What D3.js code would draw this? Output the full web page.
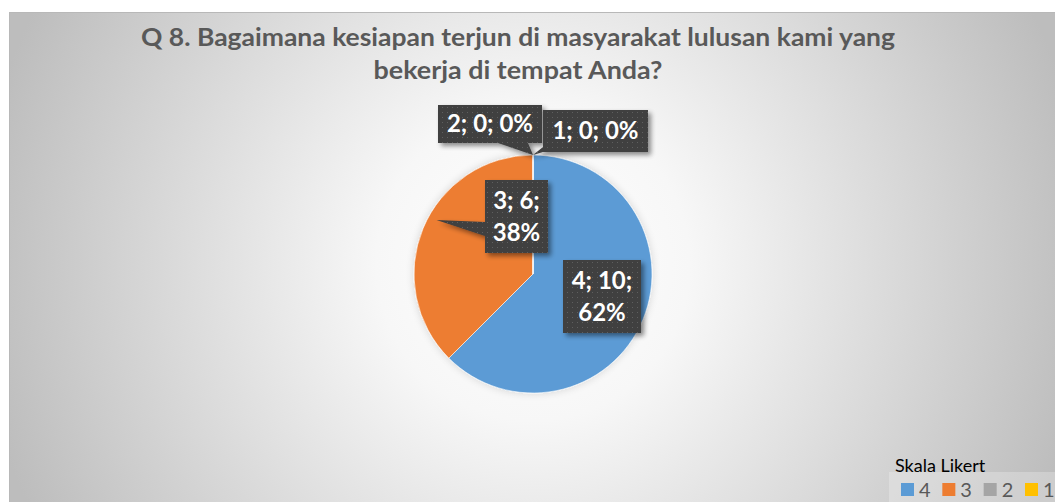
<!DOCTYPE html>
<html><head><meta charset="utf-8">
<script src="https://cdn.jsdelivr.net/npm/d3@7"></script>
<style>html,body{margin:0;padding:0;background:#fff;}svg{display:block;}</style>
</head><body>
<script>
const categories = ["4", "3", "2", "1"];
const values = [10, 6, 0, 0];
const percentLabels = ["62%", "38%", "0%", "0%"];
const colors = ["#5B9BD5", "#ED7D31", "#A5A5A5", "#FFC000"];
const titleLines = ["Q 8. Bagaimana kesiapan terjun di masyarakat lulusan kami yang", "bekerja di tempat Anda?"];
const legendTitle = "Skala Likert";

const W = 1055, H = 502;
const svg = d3.select("body").append("svg").attr("width", W).attr("height", H);
const defs = svg.append("defs");

const cx = 533, cy = 274, R = 119;

const rg = defs.append("radialGradient").attr("id", "bg").attr("gradientUnits", "userSpaceOnUse")
  .attr("cx", cx).attr("cy", cy - 10).attr("r", 560);
rg.append("stop").attr("offset", 0).attr("stop-color", "#ffffff");
rg.append("stop").attr("offset", 0.28).attr("stop-color", "#f7f7f7");
rg.append("stop").attr("offset", 1).attr("stop-color", "#bdbdbd");

const pat = defs.append("pattern").attr("id", "dots").attr("patternUnits", "userSpaceOnUse").attr("width", 5).attr("height", 5);
pat.append("rect").attr("width", 5).attr("height", 5).attr("fill", "#3f3f3f");
pat.append("rect").attr("x", 2).attr("y", 2).attr("width", 1).attr("height", 1).attr("fill", "#5f5f5f");

const sh = defs.append("filter").attr("id", "shadow").attr("x", "-20%").attr("y", "-20%").attr("width", "150%").attr("height", "150%");
sh.append("feGaussianBlur").attr("in", "SourceAlpha").attr("stdDeviation", 2.5);
sh.append("feOffset").attr("dx", 3).attr("dy", 3).attr("result", "b");
sh.append("feComponentTransfer").append("feFuncA").attr("type", "linear").attr("slope", 0.45);
const mg = sh.append("feMerge"); mg.append("feMergeNode"); mg.append("feMergeNode").attr("in", "SourceGraphic");

const psh = defs.append("filter").attr("id", "pshadow").attr("x", "-20%").attr("y", "-20%").attr("width", "140%").attr("height", "140%");
psh.append("feGaussianBlur").attr("in", "SourceAlpha").attr("stdDeviation", 4);
psh.append("feOffset").attr("dx", 0).attr("dy", 0);
psh.append("feComponentTransfer").append("feFuncA").attr("type", "linear").attr("slope", 0.15);
const mg2 = psh.append("feMerge"); mg2.append("feMergeNode"); mg2.append("feMergeNode").attr("in", "SourceGraphic");

// chart area background
svg.append("rect").attr("x", 9).attr("y", 12).attr("width", W - 9).attr("height", H - 12).attr("fill", "url(#bg)");
svg.append("line").attr("x1", 9).attr("x2", W).attr("y1", 12.5).attr("y2", 12.5).attr("stroke", "#b8b8b8");
svg.append("line").attr("x1", 9.5).attr("x2", 9.5).attr("y1", 12).attr("y2", H).attr("stroke", "#b8b8b8");

// title
const tl = [{t: titleLines[0], y: 46, w: 754}, {t: titleLines[1], y: 79, w: 289}];
svg.selectAll("text.title").data(tl).join("text").attr("class", "title")
  .attr("x", 518).attr("y", d => d.y).attr("text-anchor", "middle")
  .attr("font-family", "Lato, 'Open Sans', sans-serif").attr("font-weight", "bold").attr("font-size", 24)
  .attr("fill", "#595959").attr("textLength", d => d.w).attr("lengthAdjust", "spacingAndGlyphs")
  .text(d => d.t);

// pie
const data = categories.map((c, i) => ({cat: c, value: values[i], pct: percentLabels[i], color: colors[i]}));
const pie = d3.pie().value(d => d.value).sort(null);
const arc = d3.arc().innerRadius(0).outerRadius(R);
const arcs = pie(data);
const g = svg.append("g").attr("transform", `translate(${cx},${cy})`).attr("filter", "url(#pshadow)");
g.selectAll("path").data(arcs).join("path").attr("d", arc)
  .attr("fill", d => d.data.color).attr("stroke", "#ffffff").attr("stroke-width", 0.6);

// callouts (box layout relative to chart; pointer tips computed from arcs)
const boxes = [
  {x: 563, y: 260, w: 78, h: 73, lines: d => [d.cat + "; " + d.value + ";", d.pct]},
  {x: 485, y: 180, w: 63, h: 73, lines: d => [d.cat + "; " + d.value + ";", d.pct],
    base: [[485, 222], [485, 236]]},
  {x: 438, y: 105, w: 104, h: 38, lines: d => [d.cat + "; " + d.value + "; " + d.pct],
    base: [[498, 143], [528, 143]]},
  {x: 543, y: 110, w: 105, h: 42, lines: d => [d.cat + "; " + d.value + "; " + d.pct],
    base: [[543, 147], [543, 152]]}
];
const tipPt = (a, k) => {
  const mid = (a.startAngle + a.endAngle) / 2;
  const ang = a.value === 0 ? a.startAngle : mid;
  return [cx + Math.sin(ang) * R * k, cy - Math.cos(ang) * R * k];
};
arcs.forEach((a, i) => {
  const b = boxes[i];
  const cg = svg.append("g").attr("filter", "url(#shadow)");
  if (b.base) {
    let tip;
    if (i === 1) {
      const ang = a.startAngle + (a.endAngle - a.startAngle) * 0.55;
      tip = [cx + Math.sin(ang) * R * 0.93, cy - Math.cos(ang) * R * 0.93];
    } else {
      tip = tipPt(a, 1);
    }
    cg.append("path").attr("d", d3.line()([b.base[0], tip, b.base[1]]) + "Z").attr("fill", "url(#dots)");
  }
  cg.append("rect").attr("x", b.x).attr("y", b.y).attr("width", b.w).attr("height", b.h).attr("fill", "url(#dots)");
  const lines = b.lines(a.data);
  const lh = 32;
  const y0 = b.y + b.h / 2 - (lines.length - 1) * lh / 2 + 8;
  lines.forEach((t, j) => {
    svg.append("text").attr("x", b.x + b.w / 2).attr("y", y0 + j * lh).attr("text-anchor", "middle")
      .attr("font-family", "Lato, 'Open Sans', sans-serif").attr("font-weight", "bold").attr("font-size", 24)
      .attr("fill", "#ffffff").text(t);
  });
});

// legend
svg.append("rect").attr("x", 889).attr("y", 472).attr("width", W - 889).attr("height", H - 472)
  .attr("fill", "#ffffff").attr("opacity", 0.25);
svg.append("text").attr("x", 895).attr("y", 472).attr("font-family", "Lato, 'Open Sans', sans-serif")
  .attr("font-size", 18).attr("fill", "#000").text(legendTitle);
const lx = d3.scalePoint().domain(categories).range([901, 1025]);
const lg = svg.selectAll("g.leg").data(data).join("g").attr("class", "leg")
  .attr("transform", d => `translate(${lx(d.cat)},483)`);
lg.append("rect").attr("width", 13).attr("height", 13).attr("fill", d => d.color);
lg.append("text").attr("x", 18).attr("y", 14).attr("font-family", "Lato, 'Open Sans', sans-serif")
  .attr("font-size", 20).attr("fill", "#595959").text(d => d.cat);
</script>
</body></html>
